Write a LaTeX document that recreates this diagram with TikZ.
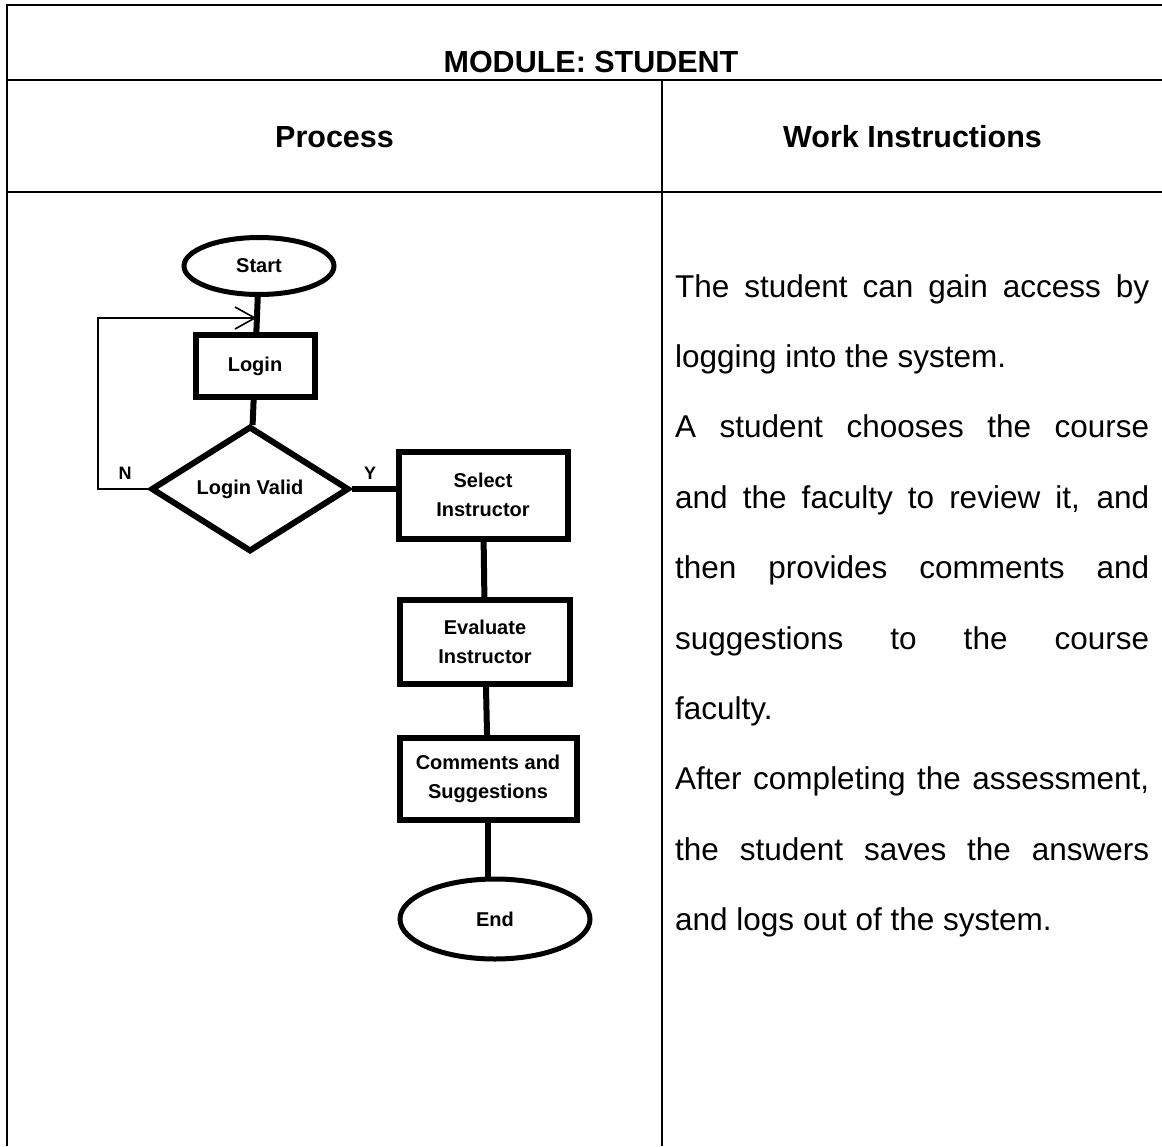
\documentclass[tikz,border=0pt]{standalone}
\usepackage{fontspec}
\setmainfont{Liberation Sans}
\usetikzlibrary{positioning,shapes.geometric,arrows.meta,calc}

\tikzset{
  rule/.style={line width=2.2pt},
  flow/.style={line width=6pt},
  term/.style={ellipse,draw,line width=5pt,inner sep=0pt,font=\flowfont},
  proc/.style={rectangle,draw,line width=6pt,inner sep=0pt,align=center,font=\flowfont},
  decide/.style={diamond,draw,line width=6pt,inner sep=0pt,font=\flowfont},
  yn/.style={font=\bfseries\fontsize{18}{18}\selectfont}
}
\newcommand{\flowfont}{\bfseries\fontsize{20}{29}\selectfont}
\newcommand{\headfont}{\bfseries\fontsize{30.5}{31}\selectfont}
\newcommand{\bodyfont}{\fontsize{31.5}{70.4}\selectfont}

\begin{document}
\begin{tikzpicture}[x=1pt,y=-1pt,node distance=100pt,on grid]
   \useasboundingbox (0,0) rectangle (1162,1146);
   % table
   \draw[rule] (1162,5) -- (7,5) -- (7,1146);
   \draw[rule] (7,80) -- (1162,80);
   \draw[rule] (7,192) -- (1162,192);
   \draw[rule] (662,80) -- (662,1146);
   \node[font=\headfont,anchor=base] (title) at (591,72) {MODULE: STUDENT};
   \node[font=\headfont,anchor=base] (proc_h) at (334.5,147) {Process};
   \node[font=\headfont,anchor=base] (work_h) at (912.5,147) {Work Instructions};

   % flowchart
   \node[term,minimum width=150pt,minimum height=57pt] (start) at (259,266) {Start};
   \node[proc,minimum width=119pt,minimum height=62pt] (login) [below=100pt of start,xshift=-4pt] {Login};
   \node[decide,minimum width=198pt,minimum height=108pt] (valid) [below=123pt of login,xshift=-5pt] {Login Valid};
   \node[proc,minimum width=169pt,minimum height=87pt] (sel) at (483,495) {Select\\Instructor};
   \node[proc,minimum width=170pt,minimum height=84pt] (eva) [below=147pt of sel,xshift=2pt] {Evaluate\\Instructor};
   \node[proc,minimum width=177pt,minimum height=82pt] (com) [below=137pt of eva,xshift=3pt] {Comments and\\Suggestions};
   \node[term,minimum width=190pt,minimum height=80pt] (fin) [below=140pt of com,xshift=7pt] {End};
   \coordinate (entry) at ($(start.south)!0.6!(login.north)$);
   \coordinate (turn) at ($(valid.west)+(-50,0)$);

   \draw[flow] (start) -- (login);
   \draw[flow] (login) -- (valid);
   \draw[flow] (valid.east) -- (valid.east -| sel.west);
   \draw[flow] (sel) -- (eva);
   \draw[flow] (eva) -- (com);
   \draw[flow] (com.south) -- (com.south |- fin.north);
   \draw[line width=1.6pt,-{Straight Barb[length=20pt,width=22pt]}] (valid.west) -- (turn) |- (entry);
   \node[yn] (no) at (125,473) {N};
   \node[yn] (yes) at (370,473) {Y};

   % work instructions
   \node[anchor=base west,text width=474pt,align=justify,inner sep=0pt,font=\bodyfont] (instr) at (675,297)
   {The student can gain access by\linebreak logging into the system.\par
    A student chooses the course\linebreak and the faculty to review it, and\linebreak
    then provides comments and\linebreak suggestions to the course\linebreak faculty.\par
    After completing the assessment,\linebreak the student saves the answers\linebreak
    and logs out of the system.\par};
\end{tikzpicture}
\end{document}
